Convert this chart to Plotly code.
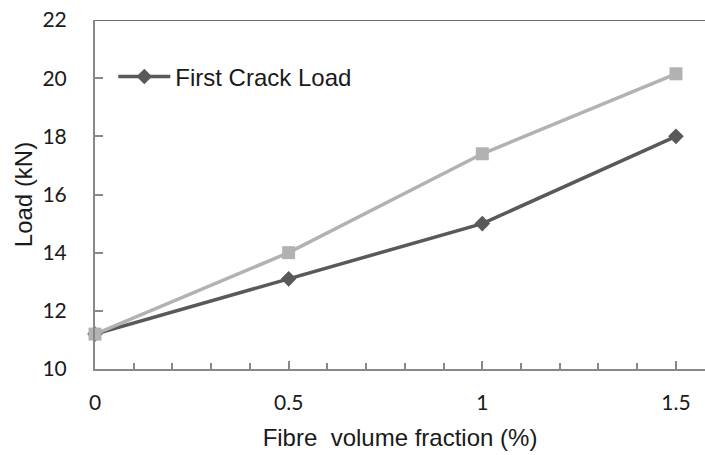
import plotly.graph_objects as go

fibre_fraction = [0, 0.5, 1, 1.5]
first_crack_load = [11.2, 13.1, 15.0, 18.0]
ultimate_load = [11.2, 14.0, 17.4, 20.15]
y_ticks = [10, 12, 14, 16, 18, 20, 22]
x_ticks = [0, 0.5, 1, 1.5]

fig = go.Figure()
fig.add_trace(go.Scatter(
    x=fibre_fraction, y=first_crack_load, mode="lines+markers",
    name="First Crack Load",
    line=dict(color="#595959", width=3.5),
    marker=dict(symbol="diamond", size=12, color="#595959"),
    cliponaxis=False,
))
fig.add_trace(go.Scatter(
    x=fibre_fraction, y=ultimate_load, mode="lines+markers",
    name="Ultimate Load", showlegend=False,
    line=dict(color="#b2b2b2", width=3.5),
    marker=dict(symbol="square", size=13, color="#b2b2b2"),
    cliponaxis=False,
))

fig.add_shape(type="line", xref="paper", yref="y", x0=0, x1=1, y0=22, y1=22,
              line=dict(color="#6e6e6e", width=2), layer="below")

fig.update_layout(
    width=705, height=455,
    margin=dict(l=95, r=0, t=20, b=86),
    paper_bgcolor="white", plot_bgcolor="white",
    font=dict(family="Liberation Sans, Arial", color="#1a1a1a"),
    legend=dict(x=0.03, y=0.837, yanchor="middle", xanchor="left",
                font=dict(size=24, family="Liberation Sans, Arial", color="#1a1a1a"),
                bgcolor="rgba(0,0,0,0)", itemwidth=52),
    xaxis=dict(
        range=[0, 1.575], tickvals=x_ticks, ticktext=["0", "0.5", "1", "1.5"],
        ticks="inside", ticklen=8, tickwidth=2, tickcolor="#888888",
        minor=dict(dtick=0.1, tick0=0, ticks="inside", ticklen=6, tickwidth=2, tickcolor="#888888"),
        showline=True, linecolor="#888888", linewidth=2,
        showgrid=False, zeroline=False,
        tickfont=dict(family="Lato, Open Sans", size=21, color="#1a1a1a"),
        ticklabelstandoff=14,
        title=dict(text="Fibre\u00a0 volume fraction (%)", standoff=16,
                   font=dict(size=24, family="Liberation Sans, Arial", color="#1a1a1a")),
    ),
    yaxis=dict(
        range=[10, 22], tickvals=y_ticks,
        ticks="inside", ticklen=8, tickwidth=2, tickcolor="#888888",
        showline=True, linecolor="#888888", linewidth=2,
        showgrid=False, zeroline=False,
        tickfont=dict(family="Lato, Open Sans", size=21, color="#1a1a1a"),
        ticklabelstandoff=22,
        title=dict(text="Load (kN)", standoff=3,
                   font=dict(size=24, family="Liberation Sans, Arial", color="#1a1a1a")),
    ),
)

fig.write_html("out.html")
